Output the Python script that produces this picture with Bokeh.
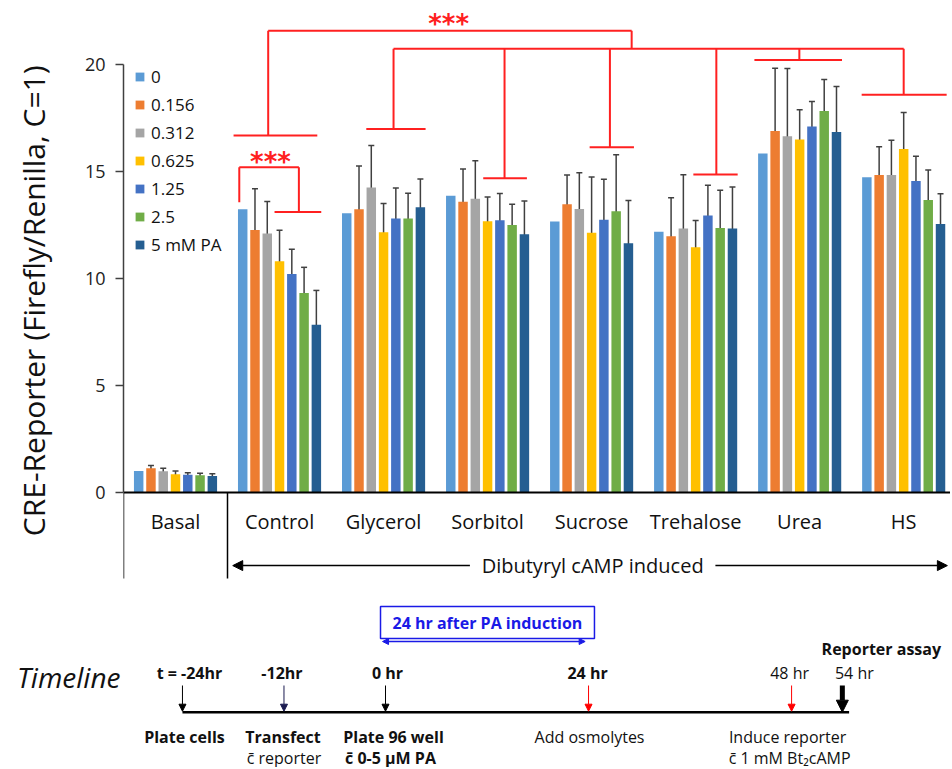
from bokeh.plotting import figure
from bokeh.layouts import column
from bokeh.models import (Range1d, FixedTicker, Whisker, TeeHead, ColumnDataSource,
                          Legend, LegendItem, Arrow, NormalHead)
from bokeh.core.properties import value
from bokeh.embed import file_html
from bokeh.resources import INLINE

# ---------------- data ----------------
categories = ["Basal", "Control", "Glycerol", "Sorbitol", "Sucrose", "Trehalose", "Urea", "HS"]
doses = ["0", "0.156", "0.312", "0.625", "1.25", "2.5", "5 mM PA"]
colors = ["#5B9BD5", "#ED7D31", "#A5A5A5", "#FFC000", "#4472C4", "#70AD47", "#255E91"]

v_0    = [0.99, 13.22, 13.04, 13.86, 12.65, 12.17, 15.83, 14.72]
v_0156 = [1.12, 12.26, 13.22, 13.58, 13.46, 11.96, 16.88, 14.83]
v_0312 = [0.98, 12.09, 14.24, 13.71, 13.24, 12.32, 16.64, 14.83]
v_0625 = [0.84, 10.79, 12.15, 12.66, 12.13, 11.45, 16.48, 16.04]
v_125  = [0.82, 10.20, 12.79, 12.71, 12.73, 12.93, 17.09, 14.55]
v_25   = [0.79, 9.31, 12.79, 12.49, 13.13, 12.35, 17.82, 13.66]
v_5    = [0.76, 7.83, 13.32, 12.06, 11.64, 12.32, 16.84, 12.54]

e_0    = [0, 0, 0, 0, 0, 0, 0, 0]
e_0156 = [0.13, 1.92, 2.03, 1.53, 1.37, 1.80, 2.93, 1.32]
e_0312 = [0.14, 1.50, 1.96, 1.78, 1.69, 2.52, 3.16, 1.62]
e_0625 = [0.15, 1.45, 1.34, 1.14, 2.60, 1.25, 1.39, 1.70]
e_125  = [0.09, 1.16, 1.43, 1.25, 1.90, 1.41, 1.17, 1.15]
e_25   = [0.10, 1.20, 1.18, 0.97, 2.64, 1.76, 1.47, 1.40]
e_5    = [0.10, 1.60, 1.32, 1.55, 1.99, 1.94, 2.12, 1.41]

series_values = [v_0, v_0156, v_0312, v_0625, v_125, v_25, v_5]
series_errors = [e_0, e_0156, e_0312, e_0625, e_125, e_25, e_5]

y_ticks = [0, 5, 10, 15, 20]

# significance brackets: (stem x, cap y, cap left, cap right)
tree_top_y = 21.57
tree_mid_y = 20.73
ctrl_cap = (1.391, 16.67, 1.058, 1.863)
osm_caps = [(2.596, 16.98, 2.334, 2.904),
            (3.663, 14.67, 3.458, 3.878),
            (4.676, 16.12, 4.481, 4.907),
            (5.699, 14.85, 5.478, 5.904),
            (6.497, 20.20, 6.065, 6.907),
            (7.500, 18.57, 7.096, 7.913)]
tree_join_x = 4.885
dose_left = (1.113, 13.55)
dose_top_y = 15.19
dose_stem_x = 1.686
dose_cap = (13.10, 1.452, 1.901)
star_x = [1.413, 3.125]
star_y = [15.42, 21.87]

# timeline
tl_hours = [-24, -12, 0, 24, 48, 54]
tl_time_labels = ["t = -24hr", "-12hr", "0 hr", "24 hr", "48 hr", "54 hr"]
tl_time_bold = [True, True, True, True, False, False]
tl_time_dx = [7, -2, 2, -1, -2, 12]
tl_arrow_colors = ["black", "#1a1a50", "black", "red", "red", "black"]
tl_act1 = ["Plate cells", "Transfect", "Plate 96 well", "Add osmolytes", "Induce reporter"]
tl_act1_bold = [True, True, True, False, False]
tl_act1_dx = [2, -1, 8, 1, -4]
tl_act2 = ["", "c\u0304 reporter", "c\u0304 0-5 \u00b5M PA", "", "c\u0304 1 mM Bt\u2082cAMP"]
tl_act2_bold = [False, False, True, False, False]
tl_act2_dx = [0, 0, 5, 0, -2]

FONT = "Open Sans"
W = 950
LEFT = 123

# ---------------- main chart ----------------
p = figure(width=W, height=585, x_range=Range1d(0, 7.95), y_range=Range1d(-4.36, 22.98),
           output_backend="svg", toolbar_location=None,
           min_border_left=LEFT, min_border_right=0, min_border_top=0, min_border_bottom=0)
p.outline_line_color = None
p.grid.visible = False

PITCH = 0.118
BAR_W = 0.091
renderers = []
for j, (vals, errs, col) in enumerate(zip(series_values, series_errors, colors)):
    xs = [i + 0.5 + (j - 3) * PITCH for i in range(len(categories))]
    r = p.vbar(x=xs, top=vals, bottom=0, width=BAR_W, fill_color=col, line_color=None)
    renderers.append(r)
    if any(e > 0 for e in errs):
        src = ColumnDataSource(dict(x=xs, lo=[v - e for v, e in zip(vals, errs)],
                                    hi=[v + e for v, e in zip(vals, errs)]))
        p.add_layout(Whisker(source=src, base="x", lower="lo", upper="hi",
                             line_color="#404040", line_width=1.5,
                             upper_head=TeeHead(size=6, line_color="#404040", line_width=1.5),
                             lower_head=TeeHead(size=6, line_color="#404040", line_width=1.5)))

yax = p.yaxis[0]
yax.bounds = (0, 20)
yax.ticker = FixedTicker(ticks=y_ticks)
yax.major_tick_out = 8
yax.major_tick_in = 0
yax.minor_tick_line_color = None
yax.axis_line_color = "#404040"
yax.axis_line_width = 1.5
yax.major_tick_line_color = "#404040"
yax.major_tick_line_width = 1.5
yax.major_label_text_font = FONT
yax.major_label_text_font_size = "18px"
yax.major_label_text_color = "#222222"
yax.major_label_standoff = 10
yax.axis_label = "CRE-Reporter  (Firefly/Renilla,  C=1)"
yax.axis_label_text_font = FONT
yax.axis_label_text_font_size = "30px"
yax.axis_label_text_font_style = "normal"
yax.axis_label_text_color = "#111111"
yax.axis_label_standoff = 28

xax = p.xaxis[0]
xax.fixed_location = 0
xax.ticker = FixedTicker(ticks=[], minor_ticks=[0, 1])
xax.major_tick_line_color = None
xax.major_tick_out = 0
xax.major_tick_in = 0
xax.minor_tick_out = 86
xax.minor_tick_in = 0
xax.minor_tick_line_color = "black"
xax.minor_tick_line_width = 1.5
xax.axis_line_color = "black"
xax.axis_line_width = 2

# category labels under the axis
CAT_Y = -1.37
p.text(x=[i + 0.5 for i in range(len(categories))], y=[CAT_Y] * len(categories), text=categories,
       text_font=value(FONT), text_font_size="20px", text_align="center",
       text_baseline="middle", text_color="#111111")

# Dibutyryl cAMP induced
DB_X, DB_Y = 4.51, -3.43
p.text(x=[DB_X], y=[DB_Y], text=["Dibutyryl cAMP induced"], text_font=value(FONT),
       text_font_size="20px", text_align="center", text_baseline="middle", text_color="#111111")
p.add_layout(Arrow(x_start=DB_X - 1.18, y_start=DB_Y, x_end=1.05, y_end=DB_Y, line_width=1.5,
                   end=NormalHead(size=10, fill_color="black", line_color="black")))
p.add_layout(Arrow(x_start=DB_X + 1.18, y_start=DB_Y, x_end=7.92, y_end=DB_Y, line_width=1.5,
                   end=NormalHead(size=10, fill_color="black", line_color="black")))

# brackets
RED = "#FF2020"
x0s, y0s, x1s, y1s = [], [], [], []
def seg(a, b, c, d):
    x0s.append(a); y0s.append(b); x1s.append(c); y1s.append(d)

sx, cy, cl, cr = ctrl_cap
seg(cl, cy, cr, cy)
seg(sx, cy, sx, tree_top_y)
seg(sx, tree_top_y, tree_join_x, tree_top_y)
seg(tree_join_x, tree_top_y, tree_join_x, tree_mid_y)
seg(osm_caps[0][0], tree_mid_y, osm_caps[-1][0], tree_mid_y)
for sx, cy, cl, cr in osm_caps:
    seg(sx, tree_mid_y, sx, cy)
    seg(cl, cy, cr, cy)
seg(dose_left[0], dose_left[1], dose_left[0], dose_top_y)
seg(dose_left[0], dose_top_y, dose_stem_x, dose_top_y)
seg(dose_stem_x, dose_top_y, dose_stem_x, dose_cap[0])
seg(dose_cap[1], dose_cap[0], dose_cap[2], dose_cap[0])
p.segment(x0=x0s, y0=y0s, x1=x1s, y1=y1s, line_color=RED, line_width=2)

p.text(x=star_x, y=star_y, text=["***", "***"], text_font=value("DejaVu Sans"),
       text_font_size="26px", text_font_style="bold", text_color=RED,
       text_align="center", text_baseline="alphabetic")

legend = Legend(items=[LegendItem(label=d, renderers=[r]) for d, r in zip(doses, renderers)],
                location=(11, 329), glyph_width=11, glyph_height=11, label_standoff=6,
                spacing=5, padding=0, margin=0, border_line_color=None,
                background_fill_alpha=0, label_text_font=FONT, label_text_font_size="17px",
                label_height=20, label_text_color="#111111")
p.add_layout(legend)

# ---------------- timeline ----------------
PX_PER_HR = 8.46
HR0_PX = 385
tl = figure(width=W, height=182,
            x_range=Range1d((LEFT - HR0_PX) / PX_PER_HR, (W - HR0_PX) / PX_PER_HR),
            y_range=Range1d(767, 585),
            output_backend="svg", toolbar_location=None,
            min_border_left=LEFT, min_border_right=0, min_border_top=0, min_border_bottom=0)
tl.grid.visible = False
tl.outline_line_color = None
tl.xaxis.visible = False
tax = tl.yaxis[0]
tax.ticker = FixedTicker(ticks=[])
tax.axis_line_color = None
tax.major_tick_line_color = None
tax.minor_tick_line_color = None
tax.major_tick_out = 0
tax.major_label_standoff = 0
tax.axis_label = "Timeline"
tax.axis_label_orientation = "horizontal"
tax.axis_label_text_font = FONT
tax.axis_label_text_font_size = "28px"
tax.axis_label_text_font_style = "italic"
tax.axis_label_text_color = "#111111"
tax.axis_label_standoff = 3

Y_TIME, Y_LINE, Y_ARROW_TOP, Y_ROW1, Y_ROW2 = 672, 711.7, 685, 736, 757

for h, lab, b, dx in zip(tl_hours, tl_time_labels, tl_time_bold, tl_time_dx):
    tl.text(x=[h], y=[Y_TIME], text=[lab], x_offset=dx, text_font=value(FONT),
            text_font_size="16px", text_font_style="bold" if b else "normal",
            text_align="center", text_baseline="middle", text_color="#111111")

tl.segment(x0=[tl_hours[0]], y0=[Y_LINE], x1=[tl_hours[-1] + 0.8], y1=[Y_LINE],
           line_color="black", line_width=2.5)

for h, c in zip(tl_hours[:-1], tl_arrow_colors[:-1]):
    tl.add_layout(Arrow(x_start=h, y_start=Y_ARROW_TOP, x_end=h, y_end=Y_LINE - 1,
                        line_color=c, line_width=1,
                        end=NormalHead(size=7, fill_color=c, line_color=c)))
tl.add_layout(Arrow(x_start=tl_hours[-1], y_start=Y_ARROW_TOP, x_end=tl_hours[-1], y_end=Y_LINE,
                    line_color="black", line_width=5,
                    end=NormalHead(size=12, fill_color="black", line_color="black")))

tl.text(x=[tl_hours[-1]], y=[648], text=["Reporter assay"], x_offset=39, text_font=value(FONT),
        text_font_size="16px", text_font_style="bold", text_align="center",
        text_baseline="middle", text_color="#111111")

for h, lab, b, dx in zip(tl_hours, tl_act1, tl_act1_bold, tl_act1_dx):
    tl.text(x=[h], y=[Y_ROW1], text=[lab], x_offset=dx, text_font=value(FONT),
            text_font_size="16px", text_font_style="bold" if b else "normal",
            text_align="center", text_baseline="middle", text_color="#111111")
for h, lab, b, dx in zip(tl_hours, tl_act2, tl_act2_bold, tl_act2_dx):
    if lab:
        tl.text(x=[h], y=[Y_ROW2], text=[lab], x_offset=dx, text_font=value(FONT),
                text_font_size="16px", text_font_style="bold" if b else "normal",
                text_align="center", text_baseline="middle", text_color="#111111")

BLUE = "#1A1AE6"
tl.quad(left=[-0.59], right=[24.7], top=[606], bottom=[638], fill_color=None,
        line_color=BLUE, line_width=1.5)
tl.text(x=[12.05], y=[622], text=["24 hr after PA induction"], text_font=value(FONT),
        text_font_size="16px", text_font_style="bold", text_align="center",
        text_baseline="middle", text_color=BLUE)
tl.add_layout(Arrow(x_start=-0.35, y_start=641, x_end=23.6, y_end=641, line_color=BLUE,
                    line_width=1.5, start=NormalHead(size=6, fill_color=BLUE, line_color=BLUE),
                    end=NormalHead(size=6, fill_color=BLUE, line_color=BLUE)))

layout = column(p, tl, spacing=0)
open("out.html", "w").write(file_html(layout, INLINE))
